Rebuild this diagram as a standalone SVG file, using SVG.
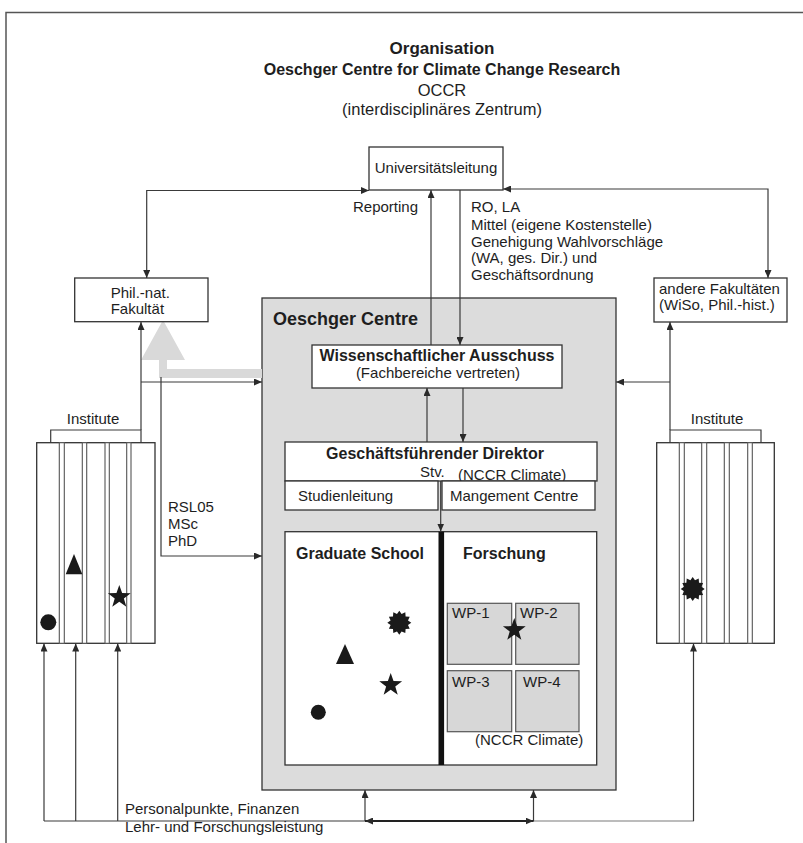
<svg xmlns="http://www.w3.org/2000/svg" width="803" height="843" viewBox="0 0 803 843">
<style>
text{font-family:"Liberation Sans",Arial,sans-serif;fill:#1e1e1e;font-size:15px}
.b{font-weight:bold}
.t{font-size:16.5px}
.c{text-anchor:middle}
.ln{fill:none;stroke:#3a3a3a;stroke-width:1.2}
.box{fill:#fff;stroke:#333;stroke-width:1.3}
.strip{fill:#fff;stroke:#555;stroke-width:1.1}
.wp{fill:#d7d7d7;stroke:#555;stroke-width:1.2}
.sym{fill:#1a1a1a}
</style>
<defs>
<marker id="ah" markerWidth="8" markerHeight="7" refX="8" refY="3.5" orient="auto" markerUnits="userSpaceOnUse"><path d="M0,0 L8,3.5 L0,7 z" fill="#2a2a2a"/></marker>
<marker id="as" markerWidth="8" markerHeight="7" refX="0" refY="3.5" orient="auto" markerUnits="userSpaceOnUse"><path d="M8,0 L0,3.5 L8,7 z" fill="#2a2a2a"/></marker>
<path id="star" d="M0,-12 L2.82,-3.88 L11.41,-3.71 L4.57,1.48 L7.05,9.71 L0,4.8 L-7.05,9.71 L-4.57,1.48 L-11.41,-3.71 L-2.82,-3.88 Z"/>
<path id="burst" d="M12,0 L8.7,2.3 L10.4,6 L6.3,6.3 L6,10.4 L2.3,8.7 L0,12 L-2.3,8.7 L-6,10.4 L-6.3,6.3 L-10.4,6 L-8.7,2.3 L-12,0 L-8.7,-2.3 L-10.4,-6 L-6.3,-6.3 L-6,-10.4 L-2.3,-8.7 L0,-12 L2.3,-8.7 L6,-10.4 L6.3,-6.3 L10.4,-6 L8.7,-2.3 Z"/>
</defs>
<rect width="803" height="843" fill="#fff"/>
<path d="M6,843 V12.5 H803" fill="none" stroke="#555" stroke-width="1.5"/>

<g id="title">
<text class="b t c" x="442" y="54" style="font-size:17px">Organisation</text>
<text class="b t c" x="442" y="75" style="font-size:16px">Oeschger Centre for Climate Change Research</text>
<text class="t c" x="442" y="96">OCCR</text>
<text class="t c" x="442" y="115">(interdisciplinäres Zentrum)</text>
</g>

<g id="oeschger-centre">
<rect x="262" y="298" width="354" height="492" fill="#dcdcdc" stroke="#333" stroke-width="1.3"/>
<text class="b" x="273" y="325" style="font-size:18px">Oeschger Centre</text>
</g>

<g id="gray-arrow">
<path d="M141,360 L163,320 L185,360 L167,360 L167,369 L262,369 L262,378 L159,378 L159,360 Z" fill="#d9d9d9"/>
</g>

<g id="connectors">
<path class="ln" d="M146.7,278 V190.5 H369" marker-start="url(#as)" marker-end="url(#ah)"/>
<path class="ln" d="M768,278 V189 H503" marker-start="url(#as)" marker-end="url(#ah)"/>
<path class="ln" d="M431,345 V190" marker-end="url(#ah)"/>
<path class="ln" d="M460,190 V345" marker-end="url(#ah)"/>
<path class="ln" d="M427,442 V388" marker-end="url(#ah)"/>
<path class="ln" d="M463,388 V442" marker-end="url(#ah)"/>
<path class="ln" d="M440.7,481 V531.5" marker-end="url(#ah)"/>
<path class="ln" d="M50.7,443 V430 H141 V443"/>
<path class="ln" d="M141,430 V322" marker-end="url(#ah)"/>
<path class="ln" d="M141,382 H262" marker-end="url(#ah)"/>
<path class="ln" d="M161,377 V556 H262" marker-end="url(#ah)"/>
<path class="ln" d="M670,443 V430 H761 V443"/>
<path class="ln" d="M670,430 V322" marker-end="url(#ah)"/>
<path class="ln" d="M670,382 H616" marker-end="url(#ah)"/>
<path class="ln" d="M44,821 H533.5"/>
<path class="ln" d="M533.5,821 H694" style="stroke:#7a7a7a"/>
<path class="ln" d="M44,821 V643.5" marker-end="url(#ah)"/>
<path class="ln" d="M75.7,821 V643.5" marker-end="url(#ah)"/>
<path class="ln" d="M117.7,821 V643.5" marker-end="url(#ah)"/>
<path class="ln" d="M693.5,821 V643.5" marker-end="url(#ah)"/>
<path class="ln" d="M365,821 V790" marker-end="url(#ah)"/>
<path class="ln" d="M533.5,821 V790" marker-end="url(#ah)"/>
<path d="M365,821 H533.5" fill="none" stroke="#222" stroke-width="2" marker-start="url(#as)" marker-end="url(#ah)"/>
</g>

<g id="universitaetsleitung">
<rect class="box" x="369" y="147" width="134" height="43"/>
<text class="c" x="436" y="173">Universitätsleitung</text>
</g>

<g id="labels">
<text x="353" y="212">Reporting</text>
<text x="471" y="212">RO, LA</text>
<text x="471" y="229.5">Mittel (eigene Kostenstelle)</text>
<text x="471" y="246.5">Genehigung Wahlvorschläge</text>
<text x="471" y="263">(WA, ges. Dir.) und</text>
<text x="471" y="280">Geschäftsordnung</text>
<text x="168" y="511.5">RSL05</text>
<text x="168" y="528.5">MSc</text>
<text x="168" y="546">PhD</text>
<text x="125" y="814">Personalpunkte, Finanzen</text>
<text x="125" y="831.5">Lehr- und Forschungsleistung</text>
</g>

<g id="phil-nat">
<rect class="box" x="74.7" y="278" width="133.3" height="43.7"/>
<text x="110.7" y="298">Phil.-nat.</text>
<text x="110.7" y="314">Fakultät</text>
</g>

<g id="andere-fakultaeten">
<rect class="box" x="654" y="278" width="133" height="44"/>
<text x="659" y="293.5">andere Fakultäten</text>
<text x="659" y="309.5">(WiSo, Phil.-hist.)</text>
</g>

<g id="wiss-ausschuss">
<rect class="box" x="312" y="345" width="250" height="43"/>
<text class="b c" x="437" y="361" style="font-size:16px">Wissenschaftlicher Ausschuss</text>
<text class="c" x="438" y="378">(Fachbereiche vertreten)</text>
</g>

<g id="direktor">
<rect class="box" x="285" y="442" width="312" height="39"/>
<text class="b c" x="435" y="459" style="font-size:16px">Geschäftsführender Direktor</text>
<text x="420" y="476.5">Stv.</text>
<text x="458" y="479.5">(NCCR Climate)</text>
</g>

<g id="studienleitung">
<rect class="box" x="285" y="481" width="153" height="29"/>
<text x="298" y="500.5">Studienleitung</text>
</g>

<g id="management-centre">
<rect class="box" x="442" y="481" width="153" height="29"/>
<text x="450" y="500.5">Mangement Centre</text>
</g>

<g id="graduate-school-forschung">
<rect class="box" x="285" y="531.7" width="311.7" height="233.3"/>
<rect x="438.5" y="531.7" width="5.6" height="233.3" fill="#111"/>
<text class="b" x="296" y="559" style="font-size:16px">Graduate School</text>
<text class="b" x="463" y="559" style="font-size:16px">Forschung</text>
<use href="#burst" x="399.3" y="622.7" class="sym"/>
<path class="sym" d="M345,644 L354,664 L336,664 Z"/>
<use href="#star" x="390.7" y="685" class="sym"/>
<circle class="sym" cx="318.3" cy="712.3" r="7.5"/>
</g>

<g id="wp-1"><rect class="wp" x="447.3" y="603.3" width="64.4" height="61"/><text x="452" y="618">WP-1</text></g>
<g id="wp-2"><rect class="wp" x="515.7" y="603.3" width="63.3" height="61"/><text x="520" y="618">WP-2</text></g>
<g id="wp-3"><rect class="wp" x="447.3" y="670.7" width="64.4" height="61"/><text x="452" y="687">WP-3</text></g>
<g id="wp-4"><rect class="wp" x="515.7" y="670.7" width="63.3" height="61"/><text x="523" y="687">WP-4</text></g>
<g id="wp-extra">
<use href="#star" x="514.3" y="630" class="sym"/>
<text x="475" y="745">(NCCR Climate)</text>
</g>

<g id="institute-left">
<text class="c" x="93" y="424">Institute</text>
<rect class="box" x="36.7" y="442.7" width="118.3" height="200.6"/>
<rect class="strip" x="59.3" y="442.7" width="5" height="200.6"/>
<rect class="strip" x="82.3" y="442.7" width="4.4" height="200.6"/>
<rect class="strip" x="105" y="442.7" width="4.3" height="200.6"/>
<rect class="strip" x="126.7" y="442.7" width="4.3" height="200.6"/>
<path class="sym" d="M74,554 L82.3,574.3 L65.7,574.3 Z"/>
<use href="#star" x="119.3" y="597" class="sym"/>
<circle class="sym" cx="48.3" cy="622.3" r="8"/>
</g>

<g id="institute-right">
<text class="c" x="717" y="424">Institute</text>
<rect class="box" x="656.7" y="442.7" width="117.6" height="200.6"/>
<rect class="strip" x="679.3" y="442.7" width="5" height="200.6"/>
<rect class="strip" x="701.7" y="442.7" width="5" height="200.6"/>
<rect class="strip" x="724.3" y="442.7" width="5" height="200.6"/>
<rect class="strip" x="747.7" y="442.7" width="4.6" height="200.6"/>
<use href="#burst" x="692.7" y="589" class="sym"/>
</g>
</svg>
